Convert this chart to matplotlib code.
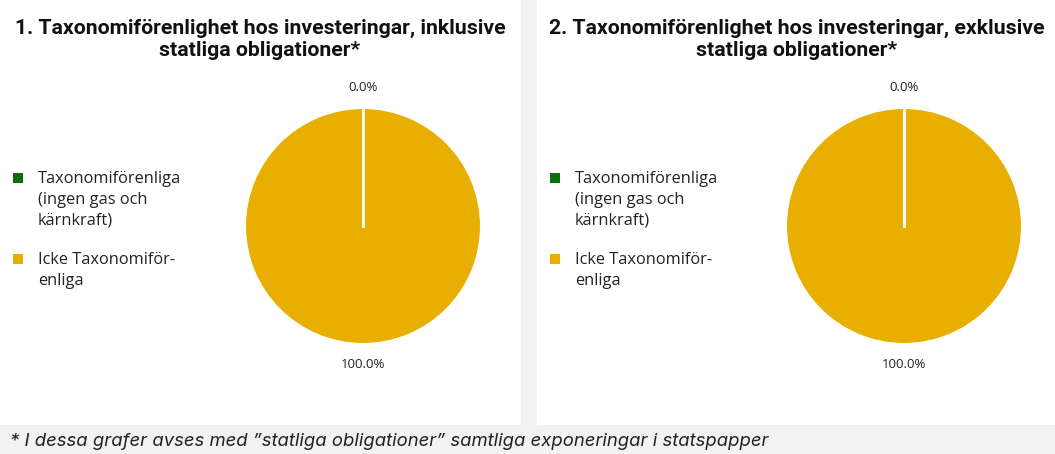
import matplotlib.pyplot as plt
from matplotlib.patches import Rectangle
import numpy as np

# Data
categories = ['Taxonomiförenliga\n(ingen gas och\nkärnkraft)', 'Icke Taxonomiför-\nenliga']
incl_values = [0.0, 100.0]
excl_values = [0.0, 100.0]
titles = ['1. Taxonomiförenlighet hos investeringar, inklusive\nstatliga obligationer*',
          '2. Taxonomiförenlighet hos investeringar, exklusive\nstatliga obligationer*']
footnote = '* I dessa grafer avses med ”statliga obligationer” samtliga exponeringar i statspapper'

colors = ['#0b6e0b', '#e8ae00']
bg = '#f2f2f2'

W, H = 1055, 454
fig = plt.figure(figsize=(W / 100, H / 100), dpi=100, facecolor=bg)


def px(x, y):
    # pixel position (from top-left) to figure fraction
    return x / W, 1 - y / H


# white panels behind everything
for x0, x1 in [(0, 521), (537, 1055)]:
    fig.patches.append(Rectangle((x0 / W, 1 - 425 / H), (x1 - x0) / W, 425 / H,
                                 transform=fig.transFigure, facecolor='white',
                                 edgecolor='none', zorder=-5))

panels = [(0, 260, 363, titles[0], incl_values), (537, 797, 904, titles[1], excl_values)]
r = 118
cy = 226

for x0, xc_title, xc_pie, title, vals in panels:
    fig.text(*px(xc_title, 39.5), title, ha='center', va='center', fontsize=15.3,
             fontweight='bold', family='Roboto', color='#111111', linespacing=1.22)

    ax = fig.add_axes([(xc_pie - r) / W, 1 - (cy + r) / H, 2 * r / W, 2 * r / H])
    wedges, _, _ = ax.pie(vals, colors=colors, startangle=90, counterclock=False,
                          wedgeprops=dict(edgecolor='white', linewidth=1.5),
                          autopct='%.1f%%', pctdistance=1.17,
                          textprops=dict(fontsize=9.5, family='Open Sans',
                                         color='#222222'))
    # white separators at the wedge boundaries
    for w in wedges:
        a = np.deg2rad(w.theta1)
        ax.plot([0, np.cos(a)], [0, np.sin(a)], color='white', lw=1.8, zorder=5)
    ax.set_xlim(-1, 1)
    ax.set_ylim(-1, 1)
    ax.set_aspect('equal')
    ax.axis('off')

    # legend entries
    for (ly, label, c) in [(178, categories[0], colors[0]), (259, categories[1], colors[1])]:
        fig.patches.append(Rectangle(px(x0 + 13, ly + 5), 10 / W, 10 / H,
                                     transform=fig.transFigure, facecolor=c,
                                     edgecolor='none'))
        fig.text(*px(x0 + 38, ly - 7), label, ha='left', va='top', fontsize=11.8,
                 family='Open Sans', color='#222222', linespacing=1.38)

fig.text(*px(10, 441), footnote, ha='left', va='center', fontsize=13.3,
         style='italic', family='Inter', color='#222222')

fig.savefig('out.png', dpi=100, facecolor=bg)
